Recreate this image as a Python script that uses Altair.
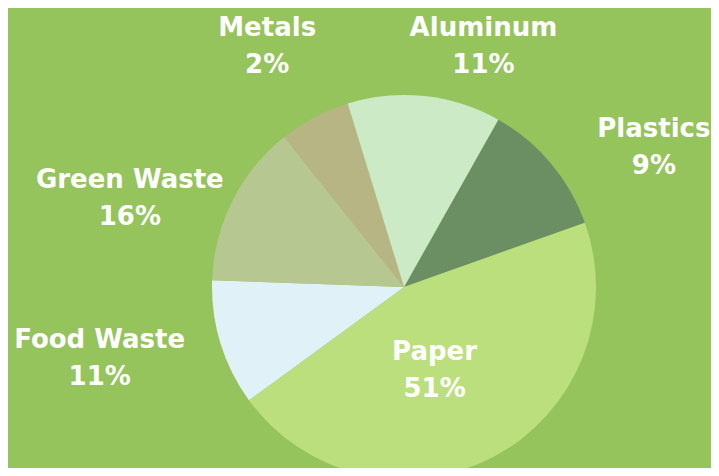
import altair as alt
import pandas as pd
import math

categories = ["Plastics", "Paper", "Food Waste", "Green Waste", "Metals", "Aluminum"]
shares = [11.4, 45.4, 10.6, 13.7, 6.0, 12.9]
label_pcts = ["9%", "51%", "11%", "16%", "2%", "11%"]
colors = ["#6b8e62", "#bbdf7d", "#e0f2f8", "#b6c792", "#b7b584", "#cdeac6"]

df = pd.DataFrame({
    "category": categories,
    "share": shares,
    "order": list(range(len(categories))),
    "label": [f"{c}\n{p}" for c, p in zip(categories, label_pcts)],
})

W, H = 703, 460
CX, CY = 396, 279
R = 192
start = math.radians(29.4)

theta = alt.Theta("share:Q", stack=True, scale=alt.Scale(range=[start, start + 2 * math.pi]))
color = alt.Color("category:N", scale=alt.Scale(domain=categories, range=colors), legend=None)
order = alt.Order("order:Q")

base = alt.Chart(df)

pie = base.mark_arc(outerRadius=R, stroke=None).encode(
    theta=theta, color=color, order=order,
    x=alt.value(CX), y=alt.value(CY),
)

# label layout: (radius, dx, dy)
layout = {
    "Plastics": (290, 28, 29),
    "Paper": (89, -11, -14),
    "Food Waste": (311, -7, -38),
    "Green Waste": (289, -16, 23),
    "Metals": (278, -7, -13),
    "Aluminum": (255, 52, -5),
}

layers = [pie]
for cat in categories:
    rad, dx, dy = layout[cat]
    t = base.mark_text(
        radius=rad, dx=dx, dy=dy, font="DejaVu Sans", fontWeight="bold",
        fontSize=26, lineHeight=37, lineBreak="\n", color="white",
        align="center", baseline="middle",
    ).encode(
        theta=theta, order=order, text="label:N",
        x=alt.value(CX), y=alt.value(CY),
        opacity=alt.condition(alt.datum.category == cat, alt.value(1), alt.value(0)),
    )
    layers.append(t)

chart = alt.layer(*layers).properties(
    width=W, height=H, autosize="none", padding=0, background="#95c35c"
).configure_view(stroke=None)

chart.save("out.html", embed_options={"renderer": "svg", "actions": False})
